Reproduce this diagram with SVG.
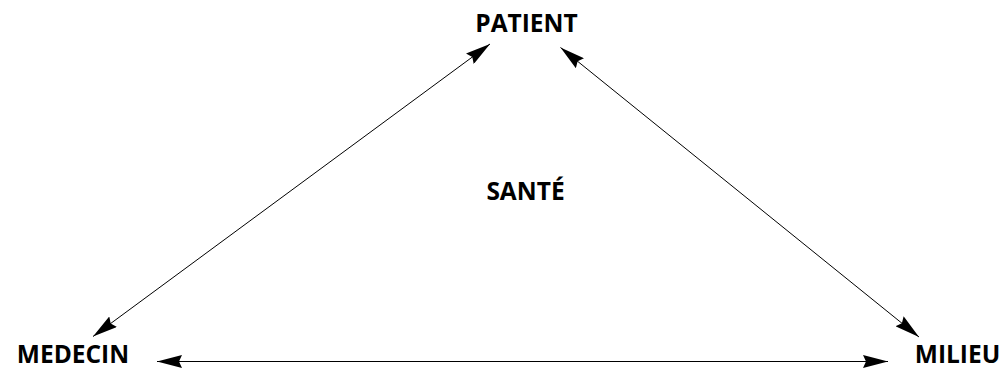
<svg xmlns="http://www.w3.org/2000/svg" width="1003" height="370" viewBox="0 0 1003 370">
  <style>
    .lbl { font-family: "Open Sans", "DejaVu Sans", sans-serif; font-weight: bold; font-size: 24.5px; fill: #000; text-anchor: middle; }
    .conn { stroke: #000; stroke-width: 1; fill: none; marker-start: url(#arrow); marker-end: url(#arrow); }
  </style>
  <defs>
    <marker id="arrow" viewBox="0 0 25 13" refX="25" refY="6.5" markerWidth="25" markerHeight="13" markerUnits="userSpaceOnUse" orient="auto-start-reverse">
      <path d="M0,0 L25,6.5 L0,13 L3,6.5 z" fill="#000"/>
    </marker>
  </defs>
  <rect width="1003" height="370" fill="#fff"/>
  <g id="connectors">
    <line class="conn" x1="93" y1="336.5" x2="490" y2="44"/>
    <line class="conn" x1="560.5" y1="47.5" x2="919" y2="337"/>
    <line class="conn" x1="157" y1="361.5" x2="888" y2="361.5"/>
  </g>
  <g id="patient"><text class="lbl" x="526.5" y="32">PATIENT</text></g>
  <g id="medecin"><text class="lbl" x="73" y="363">MEDECIN</text></g>
  <g id="milieu"><text class="lbl" x="957.5" y="363">MILIEU</text></g>
  <g id="sante"><text class="lbl" x="525.5" y="200">SANTÉ</text></g>
</svg>
